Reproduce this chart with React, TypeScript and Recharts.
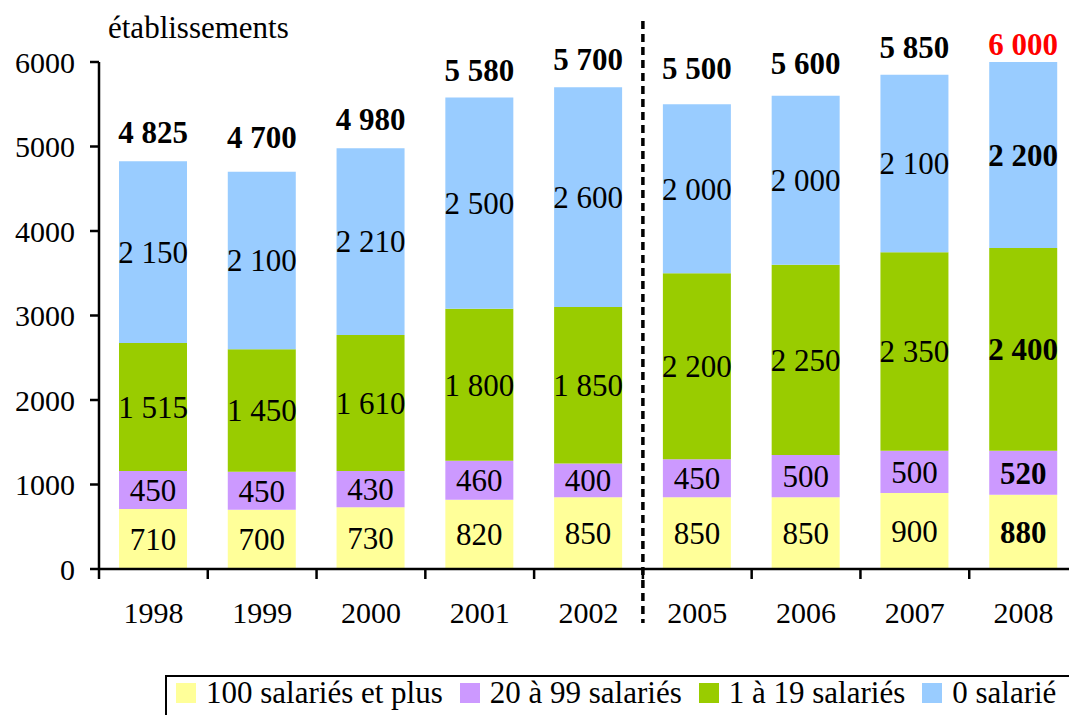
import { Bar, BarChart, LabelList, Legend, ReferenceLine, XAxis, YAxis } from "recharts";

const years = ["1998", "1999", "2000", "2001", "2002", "2005", "2006", "2007", "2008"];
const plus100 = [710, 700, 730, 820, 850, 850, 850, 900, 880];
const from20to99 = [450, 450, 430, 460, 400, 450, 500, 500, 520];
const from1to19 = [1515, 1450, 1610, 1800, 1850, 2200, 2250, 2350, 2400];
const noStaff = [2150, 2100, 2210, 2500, 2600, 2000, 2000, 2100, 2200];
const seriesNames = ["100 salariés et plus", "20 à 99 salariés", "1 à 19 salariés", "0 salarié"];
const yTicks = [0, 1000, 2000, 3000, 4000, 5000, 6000];
const highlightYear = "2008";
const breakBefore = "2005";

const FONT = '"Liberation Serif", "Times New Roman", serif';
const X_TICK_SIZE = 10;
const X_TICK_MARGIN = 23;
// hand-placed total labels in the original sit at slightly different heights
const totalLift: Record<string, number> = {
  "1998": 18, "1999": 24, "2000": 18, "2001": 16, "2002": 17,
  "2005": 25, "2006": 22, "2007": 17, "2008": 7
};

const rows = years.map((year, i) => ({
  year,
  plus100: plus100[i],
  from20to99: from20to99[i],
  from1to19: from1to19[i],
  noStaff: noStaff[i],
  total: plus100[i] + from20to99[i] + from1to19[i] + noStaff[i]
}));

const fmt = (v: number) => String(v).replace(/\B(?=(\d{3})+(?!\d))/g, " ");

function SegmentLabel(props: any) {
  const vb = props.viewBox ?? props;
  const { x, y, width, height } = vb;
  const bold = years[props.index] === highlightYear;
  return (
    <text
      x={x + width / 2}
      y={y + height / 2}
      dy="0.35em"
      textAnchor="middle"
      fontFamily={FONT}
      fontSize={31}
      fontWeight={bold ? "bold" : "normal"}
      fill="#000"
    >
      {fmt(Number(props.value))}
    </text>
  );
}

function TotalLabel(props: any) {
  const vb = props.viewBox ?? props;
  const { x, y, width } = vb;
  const year = years[props.index];
  const last = year === highlightYear;
  return (
    <text
      x={x + width / 2}
      y={y - (totalLift[year] ?? 17)}
      textAnchor="middle"
      fontFamily={FONT}
      fontSize={31}
      fontWeight="bold"
      fill={last ? "#ff0000" : "#000"}
    >
      {fmt(Number(props.value))}
    </text>
  );
}

function YearTick(props: any) {
  const { x, y, payload } = props;
  const half = payload?.offset ?? 54.4;
  const axisY = y - X_TICK_SIZE - X_TICK_MARGIN;
  return (
    <g>
      <line x1={x - half} x2={x - half} y1={axisY} y2={axisY + X_TICK_SIZE} stroke="#000" strokeWidth={2.5} />
      <text x={x} y={y} dy="0.71em" textAnchor="middle" fontFamily={FONT} fontSize={30} fill="#000">
        {payload.value}
      </text>
    </g>
  );
}

function LegendBox({ payload }: any) {
  const items = [...(payload ?? [])].sort(
    (a: any, b: any) => seriesNames.indexOf(a.value) - seriesNames.indexOf(b.value)
  );
  return (
    <div
      style={{
        border: "2px solid #000",
        boxSizing: "border-box",
        height: 60,
        display: "flex",
        paddingLeft: 9,
        paddingTop: 6,
        fontFamily: FONT,
        fontSize: 31,
        color: "#000",
        whiteSpace: "nowrap"
      }}
    >
      {items.map((item: any) => (
        <div key={item.value} style={{ display: "flex", alignItems: "center", height: 20, marginRight: 17 }}>
          <span style={{ width: 20, height: 20, background: item.color, marginRight: 10, display: "inline-block" }} />
          <span style={{ lineHeight: "20px" }}>{item.value}</span>
        </div>
      ))}
    </div>
  );
}

export default function App() {
  return (
    <div
      style={{
        position: "absolute",
        left: 0,
        top: 0,
        width: 1069,
        height: 715,
        overflow: "hidden",
        background: "#fff",
        fontFamily: FONT
      }}
    >
      <BarChart
        width={1090}
        height={715}
        data={rows}
        margin={{ top: 62, right: 12, bottom: 86, left: 0 }}
        barSize={68}
      >
        <XAxis
          dataKey="year"
          height={60}
          axisLine={{ stroke: "#000", strokeWidth: 2.5 }}
          tickLine={false}
          tickSize={X_TICK_SIZE}
          tickMargin={X_TICK_MARGIN}
          tick={<YearTick />}
          interval={0}
        />
        <YAxis
          width={99}
          domain={[0, 6000]}
          ticks={yTicks}
          interval={0}
          axisLine={{ stroke: "#000", strokeWidth: 2.5 }}
          tickLine={{ stroke: "#000", strokeWidth: 2.5 }}
          tickSize={9}
          tickMargin={15}
          tick={{ fill: "#000", fontSize: 30, fontFamily: FONT }}
          label={{
            content: ({ viewBox }: any) => (
              <text x={viewBox.x + viewBox.width + 9} y={viewBox.y - 24} fontFamily={FONT} fontSize={31} fill="#000">
                établissements
              </text>
            )
          }}
        />
        <Legend
          layout="horizontal"
          verticalAlign="middle"
          align="center"
          content={<LegendBox />}
          wrapperStyle={{ left: 165, top: 675, width: 1000, height: 60 }}
        />
        <Bar dataKey="plus100" name={seriesNames[0]} stackId="s" fill="#ffff99" isAnimationActive={false}>
          <LabelList dataKey="plus100" content={<SegmentLabel />} />
        </Bar>
        <Bar dataKey="from20to99" name={seriesNames[1]} stackId="s" fill="#cc99ff" isAnimationActive={false}>
          <LabelList dataKey="from20to99" content={<SegmentLabel />} />
        </Bar>
        <Bar dataKey="from1to19" name={seriesNames[2]} stackId="s" fill="#99cc00" isAnimationActive={false}>
          <LabelList dataKey="from1to19" content={<SegmentLabel />} />
        </Bar>
        <Bar dataKey="noStaff" name={seriesNames[3]} stackId="s" fill="#99ccff" isAnimationActive={false}>
          <LabelList dataKey="noStaff" content={<SegmentLabel />} />
          <LabelList dataKey="total" content={<TotalLabel />} />
        </Bar>
        <ReferenceLine
          segment={[
            { x: breakBefore, y: 6485 },
            { x: breakBefore, y: -640 }
          ]}
          position="start"
          ifOverflow="visible"
          stroke="#000"
          strokeWidth={3.5}
          strokeDasharray="8 5"
        />
      </BarChart>
    </div>
  );
}
